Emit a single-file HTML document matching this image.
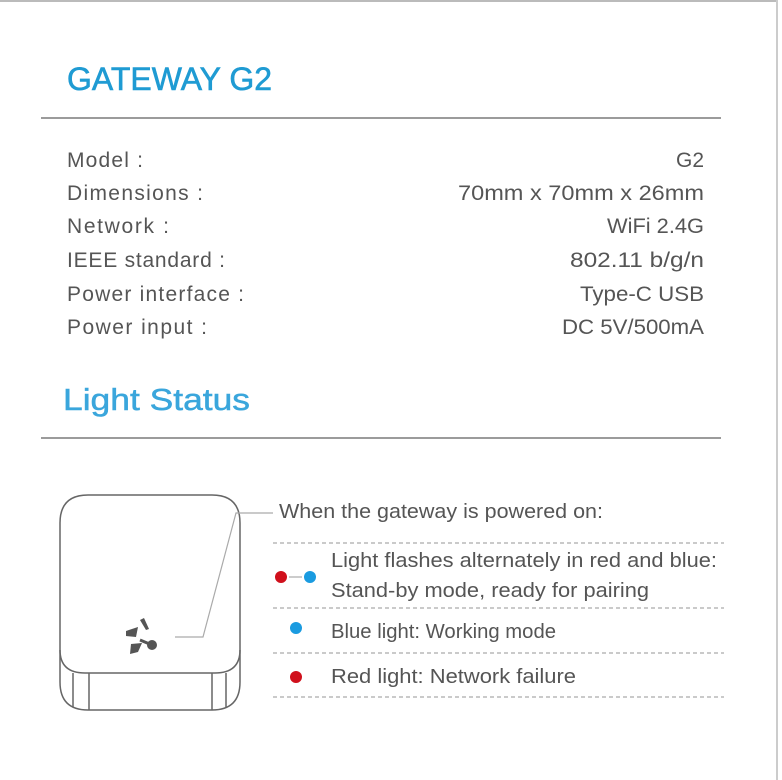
<!DOCTYPE html>
<html><head><meta charset="utf-8"><style>
html,body{margin:0;padding:0;background:#fff;}
svg{display:block}
text{font-family:"Liberation Sans",sans-serif;}
</style></head><body>
<svg width="782" height="780" viewBox="0 0 782 780" xmlns="http://www.w3.org/2000/svg">
<rect x="0" y="0" width="782" height="780" fill="#fff"/>
<line x1="0" y1="1" x2="778" y2="1" stroke="#bbb" stroke-width="2"/>
<line x1="777" y1="0" x2="777" y2="780" stroke="#ccc" stroke-width="2"/>
<text x="67" y="90" font-size="32" fill="#1f9bd3" stroke="#1f9bd3" stroke-width="0.6" textLength="205" lengthAdjust="spacingAndGlyphs">GATEWAY  G2</text>
<line x1="41" y1="118" x2="721" y2="118" stroke="#7a7a7a" stroke-width="1.5"/>
<g font-size="21" fill="#555" lengthAdjust="spacingAndGlyphs">
<text x="67" y="167" textLength="76">Model :</text>
<text x="67" y="200" textLength="136">Dimensions :</text>
<text x="67" y="233" textLength="102">Network :</text>
<text x="67" y="267" textLength="158">IEEE standard :</text>
<text x="67" y="301" textLength="177">Power interface :</text>
<text x="67" y="334" textLength="140">Power input :</text>
</g>
<g font-size="21" fill="#555">
<text x="676" y="167" textLength="28" lengthAdjust="spacingAndGlyphs">G2</text>
<text x="458" y="200" textLength="246" lengthAdjust="spacingAndGlyphs">70mm x 70mm x 26mm</text>
<text x="607" y="233" textLength="97" lengthAdjust="spacingAndGlyphs">WiFi 2.4G</text>
<text x="570" y="267" textLength="134" lengthAdjust="spacingAndGlyphs">802.11 b/g/n</text>
<text x="580" y="301" textLength="124" lengthAdjust="spacingAndGlyphs">Type-C USB</text>
<text x="562" y="334" textLength="142" lengthAdjust="spacingAndGlyphs">DC 5V/500mA</text>
</g>
<text x="63" y="410" font-size="31" fill="#3aa6dc" stroke="#3aa6dc" stroke-width="0.5" textLength="187" lengthAdjust="spacingAndGlyphs">Light Status</text>
<line x1="41" y1="438" x2="721" y2="438" stroke="#7a7a7a" stroke-width="1.5"/>
<g fill="none" stroke="#666" stroke-width="1.5">
<path d="M88 495 H212 Q240 495 240 523 V682 Q240 710 212 710 H88 Q60 710 60 682 V523 Q60 495 88 495 Z"/>
<path d="M60 650 Q60 673 85 673 H215 Q240 673 240 650"/>
<line x1="73" y1="673" x2="73" y2="707"/>
<line x1="89" y1="673" x2="89" y2="710"/>
<line x1="212" y1="673" x2="212" y2="710"/>
<line x1="226" y1="673" x2="226" y2="707"/>
</g>
<g fill="#555">
<polygon points="126,631 138,627 136,637 126,636"/>
<polygon points="131,644 142,643 138,652 130,654"/>
<polygon points="140,620 144,618 149,629 146,630"/>
<circle cx="152" cy="645" r="5"/>
<line x1="140" y1="640" x2="152" y2="645" stroke="#555" stroke-width="3"/>
</g>
<polyline points="175,637 203,637 236,513 273,513" fill="none" stroke="#aaa" stroke-width="1.2"/>
<g font-size="20" fill="#555">
<text x="279" y="518" textLength="324" lengthAdjust="spacingAndGlyphs">When the gateway is powered on:</text>
<text x="331" y="567" textLength="386" lengthAdjust="spacingAndGlyphs">Light flashes alternately in red and blue:</text>
<text x="331" y="597" textLength="318" lengthAdjust="spacingAndGlyphs">Stand-by mode, ready for pairing</text>
<text x="331" y="638" textLength="225" lengthAdjust="spacingAndGlyphs">Blue light: Working mode</text>
<text x="331" y="683" textLength="245" lengthAdjust="spacingAndGlyphs">Red light: Network failure</text>
</g>
<g stroke="#aaa" stroke-width="1.2" stroke-dasharray="4,3">
<line x1="273" y1="543" x2="724" y2="543"/>
<line x1="273" y1="608" x2="724" y2="608"/>
<line x1="273" y1="653" x2="724" y2="653"/>
<line x1="273" y1="697" x2="724" y2="697"/>
</g>
<circle cx="281" cy="577" r="6" fill="#d0101c"/>
<circle cx="310" cy="577" r="6" fill="#1a9be0"/>
<line x1="289" y1="577" x2="302" y2="577" stroke="#999" stroke-width="1"/>
<circle cx="296" cy="628" r="6" fill="#1a9be0"/>
<circle cx="296" cy="677" r="6" fill="#d0101c"/>
</svg>
</body></html>
